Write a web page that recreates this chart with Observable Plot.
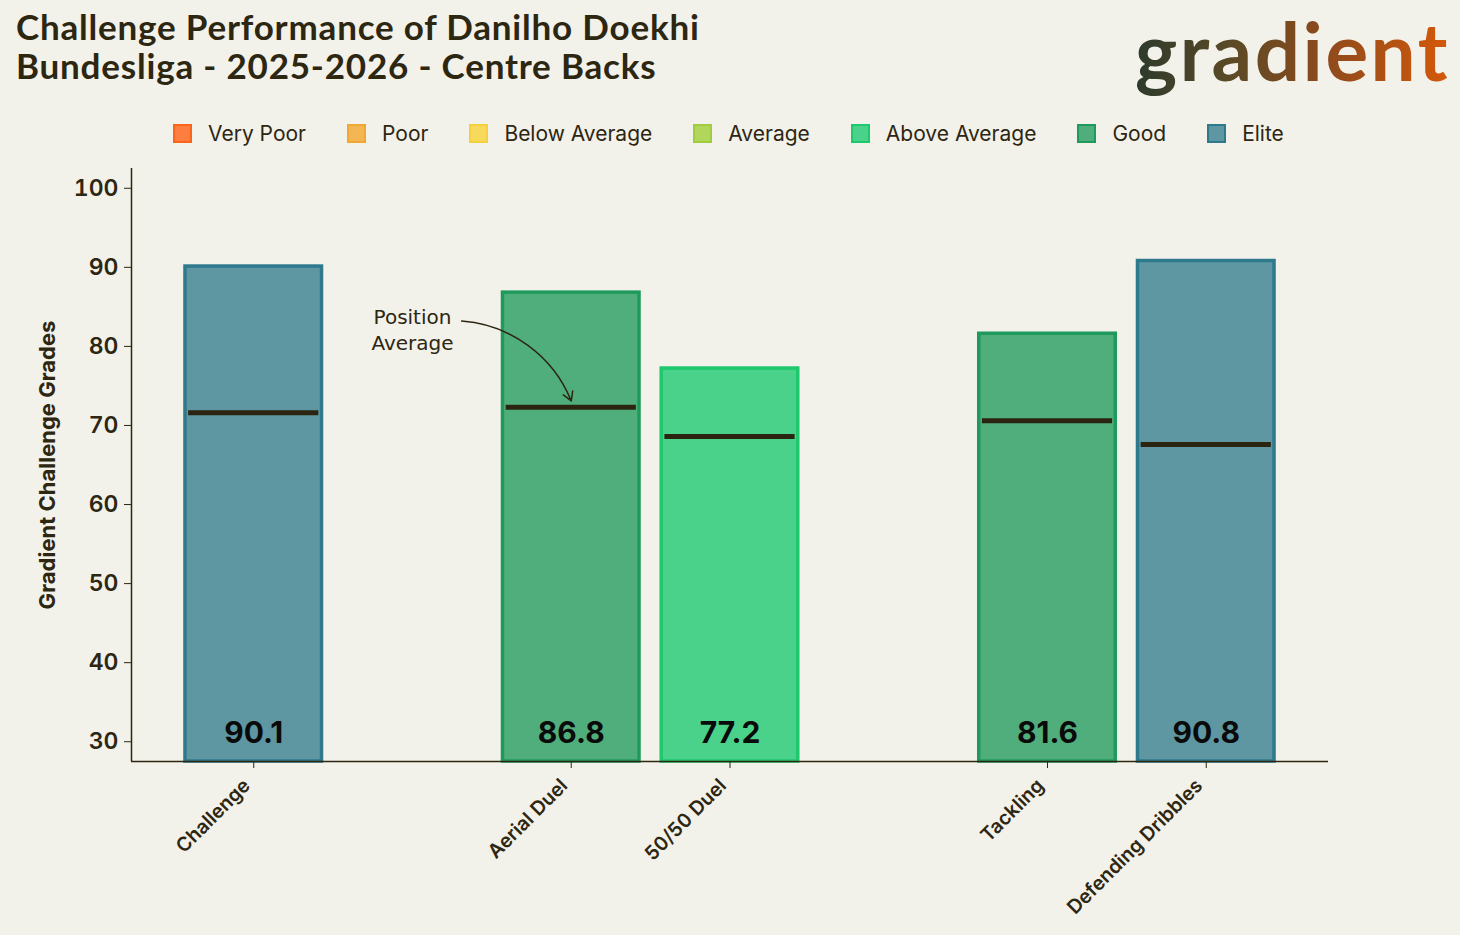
<!DOCTYPE html>
<html><head><meta charset="utf-8">
<script src="https://cdn.jsdelivr.net/npm/d3@7"></script>
<script src="https://cdn.jsdelivr.net/npm/@observablehq/plot@0.6"></script>
<style>
html,body{margin:0;padding:0;background:#f2f1ea;}
#wrap{position:relative;width:1460px;height:935px;background:#f2f1ea;overflow:hidden;}
#title{position:absolute;left:16px;top:7px;font-family:Lato,sans-serif;font-weight:700;font-size:35px;line-height:39px;color:#2d2611;letter-spacing:0.8px;}
#logo{position:absolute;left:1120px;top:0px;}
#legend{position:absolute;left:173px;top:121px;display:flex;align-items:center;font-family:Inter,sans-serif;font-size:21px;color:#2d2611;}
.item{display:flex;align-items:center;margin-right:41px;}
.sw{width:15px;height:15px;border:2px solid;margin-right:16px;}
#chart{position:absolute;left:0;top:0;}
</style></head><body>
<div id="wrap">
<div id="title">Challenge Performance of Danilho Doekhi<br>Bundesliga - 2025-2026 - Centre Backs</div>
<div id="chart"></div>
<svg id="logo" width="338" height="108" viewBox="0 0 338 108">
  <defs>
    <linearGradient id="lg" x1="0" x2="1" y1="0" y2="0">
      <stop offset="0" stop-color="#2d3a2c"/>
      <stop offset="0.3" stop-color="#5a4a26"/>
      <stop offset="0.6" stop-color="#8d4a1c"/>
      <stop offset="1" stop-color="#d5590b"/>
    </linearGradient>
  </defs>
  <text x="15" y="81" font-family="Lato, sans-serif" font-weight="700" font-size="80" letter-spacing="2.5" fill="url(#lg)">gradient</text>
</svg>
<div id="legend"></div>
</div>
<script>
const categories = ["Challenge", "Aerial Duel", "50/50 Duel", "Tackling", "Defending Dribbles"];
const positions = [0, 2, 3, 5, 6];
const grades = [90.1, 86.8, 77.2, 81.6, 90.8];
const averages = [71.6, 72.3, 68.6, 70.6, 67.6];
const tiers = ["Elite", "Good", "Above Average", "Good", "Elite"];
const tierLabels = ["Very Poor", "Poor", "Below Average", "Average", "Above Average", "Good", "Elite"];
const tierFill = ["#fd7e3e", "#f4b653", "#f7da5c", "#b1d65b", "#4ad28b", "#50ae7c", "#5e97a1"];
const tierStroke = ["#fb6519", "#f0a832", "#f4d03f", "#a0cc42", "#1ec86d", "#1f9a5d", "#2e7a8c"];
const yTicks = [30, 40, 50, 60, 70, 80, 90, 100];
const yLabel = "Gradient Challenge Grades";
const annotationText = "Position\nAverage";

const fillOf = t => tierFill[tierLabels.indexOf(t)];
const strokeOf = t => tierStroke[tierLabels.indexOf(t)];
const ink = "#2d2611";

const data = categories.map((c, i) => ({cat: c, pos: positions[i], grade: grades[i], avg: averages[i], tier: tiers[i]}));
const xDom = [-0.77, 6.77];
const yDom = [27.5, 102.5];
const half = 0.43;

// legend
const lg = document.getElementById("legend");
tierLabels.forEach((t, i) => {
  const it = document.createElement("div"); it.className = "item";
  const sw = document.createElement("div"); sw.className = "sw";
  sw.style.background = tierFill[i]; sw.style.borderColor = tierStroke[i];
  const tx = document.createElement("span"); tx.textContent = t;
  it.appendChild(sw); it.appendChild(tx); lg.appendChild(it);
});

const ann = data[1];
const chart = Plot.plot({
  width: 1460, height: 935,
  marginTop: 168, marginLeft: 131, marginRight: 132, marginBottom: 174,
  style: {background: "transparent", fontFamily: "Inter, sans-serif", color: ink},
  x: {domain: xDom},
  y: {domain: yDom},
  marks: [
    Plot.rect(data, {x1: d => d.pos - half, x2: d => d.pos + half, y1: yDom[0], y2: "grade",
      fill: d => fillOf(d.tier), stroke: d => strokeOf(d.tier), strokeWidth: 3.5}),
    Plot.ruleY(data, {y: "avg", x1: d => d.pos - 0.41, x2: d => d.pos + 0.41, stroke: "#2a2410", strokeWidth: 5}),
    Plot.text(data, {x: "pos", y: 31, text: d => d.grade.toFixed(1), fontSize: 30, fontWeight: 700, fill: "#0a0a0a", lineAnchor: "middle"}),
    Plot.text([ann], {x: d => d.pos - 1.0, y: d => d.avg + 9.9, text: () => annotationText, fontFamily: "DejaVu Sans", fontSize: 20, fill: ink, lineHeight: 1.3, lineAnchor: "middle"}),
    Plot.arrow([ann], {x1: d => d.pos - 0.69, y1: d => d.avg + 10.9, x2: d => d.pos, y2: d => d.avg + 0.8, bend: 32, stroke: ink, strokeWidth: 1.5, headLength: 10}),
    Plot.ruleX([xDom[0]], {stroke: ink, strokeWidth: 1.5}),
    Plot.ruleY([yDom[0]], {stroke: ink, strokeWidth: 1.5}),
    Plot.axisY({ticks: yTicks, tickSize: 7, tickPadding: 6, fontSize: 23, fontWeight: 600, stroke: ink, label: null}),
    Plot.text([yLabel], {frameAnchor: "left", textAnchor: "middle", rotate: -90, dx: -84, text: d => d, fontSize: 22, fontWeight: 700, fill: ink}),
    Plot.axisX({ticks: positions, tickFormat: () => "", tickSize: 7, label: null, stroke: ink}),
    Plot.axisX({ticks: positions, tickFormat: d => categories[positions.indexOf(d)], tickRotate: -45, tickSize: 0, tickPadding: 19,
      fontSize: 19.5, fontWeight: 600, label: null, dx: -7, dy: 2})
  ]
});
document.getElementById("chart").appendChild(chart);
</script>
</body></html>
